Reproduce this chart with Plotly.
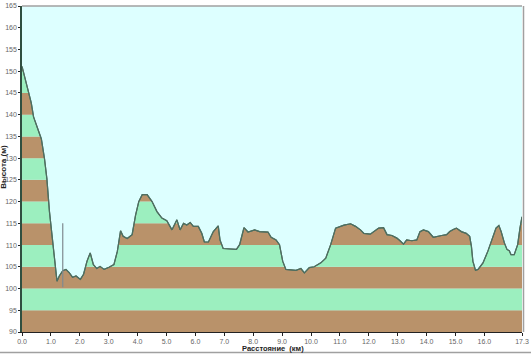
import plotly.graph_objects as go

dist_km = [0.00, 0.21, 0.32, 0.40, 0.61, 0.67, 0.78, 0.86, 0.95, 1.04, 1.12, 1.21, 1.29, 1.41,
           1.52, 1.64, 1.75, 1.87, 2.02, 2.13, 2.25, 2.36, 2.47, 2.59, 2.70, 2.84, 3.01, 3.18,
           3.30, 3.36, 3.41, 3.50, 3.64, 3.81, 3.93, 4.04, 4.16, 4.33, 4.50, 4.67, 4.84, 5.01,
           5.07, 5.19, 5.36, 5.47, 5.59, 5.70, 5.82, 5.93, 6.10, 6.22, 6.31, 6.45, 6.62, 6.79,
           6.85, 6.96, 7.42, 7.53, 7.68, 7.82, 8.05, 8.22, 8.51, 8.62, 8.79, 8.91, 9.02, 9.13,
           9.48, 9.65, 9.77, 9.94, 10.11, 10.34, 10.51, 10.68, 10.85, 11.14, 11.37, 11.54, 11.71,
           11.83, 12.05, 12.17, 12.34, 12.51, 12.63, 12.80, 12.97, 13.08, 13.20, 13.31, 13.49,
           13.66, 13.77, 13.89, 14.06, 14.23, 14.34, 14.52, 14.69, 14.80, 14.92, 15.03, 15.20,
           15.37, 15.49, 15.55, 15.60, 15.69, 15.78, 15.95, 16.12, 16.29, 16.40, 16.50, 16.58,
           16.69, 16.78, 16.86, 16.92, 17.03, 17.15, 17.23, 17.30]
elev_m = [151.1, 145.4, 142.7, 139.5, 135.1, 134.4, 129.8, 125.3, 117.7, 111.6, 106.3, 101.7, 102.9, 104.1,
          104.4, 103.6, 102.6, 102.9, 102.1, 103.3, 106.3, 108.2, 105.5, 104.6, 105.1, 104.4, 104.9, 105.5,
          108.6, 111.2, 113.3, 112.0, 111.5, 112.4, 116.9, 120.0, 121.6, 121.6, 120.0, 117.7, 116.2, 115.6,
          115.0, 113.5, 115.8, 113.5, 115.0, 114.6, 115.2, 114.3, 114.3, 112.7, 110.7, 110.7, 113.1, 114.4,
          111.2, 109.2, 109.0, 110.1, 114.0, 113.0, 113.5, 113.1, 113.0, 111.8, 111.2, 110.1, 106.3, 104.4,
          104.2, 104.6, 103.6, 104.8, 105.0, 105.9, 107.0, 110.1, 113.9, 114.6, 114.9, 114.3, 113.5,
          112.7, 112.5, 113.1, 113.9, 114.0, 112.4, 112.2, 111.6, 111.0, 110.2, 111.2, 111.0,
          111.2, 113.1, 113.5, 113.1, 111.8, 112.0, 112.2, 112.4, 113.1, 113.6, 113.9, 113.1,
          112.7, 112.0, 109.7, 106.3, 104.2, 104.4, 105.9, 108.6, 112.0, 113.9, 114.5, 113.1,
          110.5, 109.0, 108.7, 107.8, 107.8, 110.1, 113.9, 116.5]

marker_km = [1.41, 1.41]
marker_m = [100.3, 115.0]

x_ticks = [0, 1, 2, 3, 4, 5, 6, 7, 8, 9, 10, 11, 12, 13, 14, 15, 16, 17.3]
x_labels = ["0.0", "1.0", "2.0", "3.0", "4.0", "5.0", "6.0", "7.0", "8.0", "9.0", "10.0",
            "11.0", "12.0", "13.0", "14.0", "15.0", "16.0", "17.3"]
y_ticks = list(range(90, 166, 5))
band_edges = list(range(90, 166, 5))

X_MAX = 17.3
Y_MIN, Y_MAX = 90, 165
SKY = "#DDFFFF"
BROWN = "#B9926A"
GREEN = "#9CEFBF"

fig = go.Figure()

shapes = []
for i in range(len(band_edges) - 1):
    shapes.append(dict(type="rect", xref="x", yref="y", x0=0, x1=X_MAX,
                       y0=band_edges[i], y1=band_edges[i + 1],
                       fillcolor=BROWN if i % 2 == 0 else GREEN,
                       line=dict(width=0), layer="below"))
# frame lines
shapes.append(dict(type="line", xref="paper", yref="paper", x0=0, x1=1, y0=1, y1=1,
                   line=dict(color="#A0A0A0", width=1.5)))
shapes.append(dict(type="line", xref="paper", yref="paper", x0=1.003, x1=1.003, y0=0, y1=1,
                   line=dict(color="#A0A0A0", width=1.5)))
shapes.append(dict(type="line", xref="paper", yref="paper", x0=-0.05, x1=1.02, y0=-0.063, y1=-0.063,
                   line=dict(color="#A0A0A0", width=1.5)))

fig.add_trace(go.Scatter(x=dist_km, y=elev_m, mode="lines", line=dict(color="#4E6E60", width=1.2),
                         hoverinfo="skip", showlegend=False))
fig.add_trace(go.Scatter(x=dist_km, y=[Y_MAX] * len(dist_km), mode="lines", line=dict(width=0),
                         fill="tonexty", fillcolor=SKY, hoverinfo="skip", showlegend=False))
fig.add_trace(go.Scatter(x=dist_km, y=elev_m, mode="lines", line=dict(color="#4E6E60", width=1.2),
                         showlegend=False))
fig.add_trace(go.Scatter(x=marker_km, y=marker_m, mode="lines", line=dict(color="#7F8A90", width=1.2),
                         showlegend=False))

tickfont = dict(family="Liberation Sans, Arial, sans-serif", size=7, color="#666666")
fig.update_layout(
    width=531, height=354,
    margin=dict(l=22, r=5, t=2, b=22),
    paper_bgcolor="white", plot_bgcolor=SKY,
    shapes=shapes,
    xaxis=dict(range=[0, X_MAX], tickvals=x_ticks, ticktext=x_labels, showgrid=False,
               zeroline=False, showline=True, linecolor="#222222", linewidth=1,
               ticks="outside", ticklen=3, tickcolor="#222222", tickfont=tickfont,
               ticklabeloverflow="allow"),
    yaxis=dict(range=[Y_MIN, Y_MAX], tickvals=y_ticks, showgrid=False, zeroline=False,
               showline=True, linecolor="#2F4F40", linewidth=1.5,
               ticks="outside", ticklen=2, tickcolor="#222222", tickfont=tickfont,
               ticklabeloverflow="allow"),
    annotations=[
        dict(text="<b>Высота (м)</b>", xref="paper", yref="paper", x=-0.037, y=0.505,
             textangle=-90, showarrow=False, xanchor="center", yanchor="middle",
             font=dict(family="Liberation Sans, Arial, sans-serif", size=8, color="#222222")),
        dict(text="<b>Расстояние  (км)</b>", xref="paper", yref="paper", x=0.502, y=-0.052,
             showarrow=False, xanchor="center", yanchor="middle",
             font=dict(family="Liberation Sans, Arial, sans-serif", size=7.5, color="#222222")),
    ],
)

fig.write_html("out.html")
